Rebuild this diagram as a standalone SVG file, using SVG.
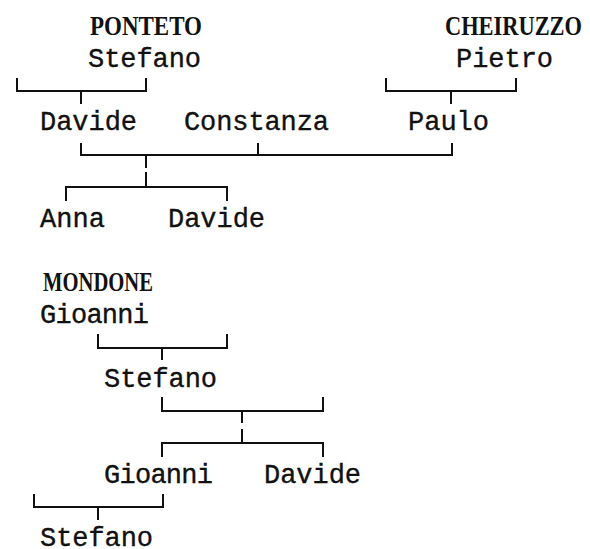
<svg xmlns="http://www.w3.org/2000/svg" width="590" height="549" viewBox="0 0 590 549">
<style>
.n{font-family:"Liberation Mono","DejaVu Sans Mono",monospace;font-size:27px;fill:#111;stroke:#111;stroke-width:0.35}
.t{font-family:"Liberation Serif","DejaVu Serif",serif;font-weight:bold;font-size:28px;fill:#111}
.c{fill:none;stroke:#111;stroke-width:2;stroke-linecap:butt}
</style>
<rect width="590" height="549" fill="#fff"/>
<g id="connectors">
<path class="c" d="M17,78V91H146V78M81,91V104"/>
<path class="c" d="M386,78V91H516V78M451,91V104"/>
<path class="c" d="M81,143V155H452V143M258,143V155M146,155V168"/>
<path class="c" d="M146,172V187M66,201V187H227V201"/>
<path class="c" d="M98,334V348H227V334M162,348V360"/>
<path class="c" d="M162,397V411H323V397M242,411V423"/>
<path class="c" d="M242,429V443M162,457V443H323V457"/>
<path class="c" d="M34,494V507H163V494M98,507V520"/>
</g>
<g id="ponteto-stefano"><text class="t" x="90" y="35" textLength="112" lengthAdjust="spacingAndGlyphs">PONTETO</text><text class="n" x="88" y="67" textLength="113">Stefano</text></g>
<g id="cheiruzzo-pietro"><text class="t" x="445" y="35" textLength="137" lengthAdjust="spacingAndGlyphs">CHEIRUZZO</text><text class="n" x="456" y="67" textLength="97">Pietro</text></g>
<g id="davide"><text class="n" x="40" y="130" textLength="97">Davide</text></g>
<g id="constanza"><text class="n" x="184" y="130" textLength="145">Constanza</text></g>
<g id="paulo"><text class="n" x="408" y="130" textLength="81">Paulo</text></g>
<g id="anna"><text class="n" x="40" y="227" textLength="65">Anna</text></g>
<g id="davide2"><text class="n" x="168" y="227" textLength="97">Davide</text></g>
<g id="mondone-gioanni"><text class="t" x="43" y="291" textLength="110" lengthAdjust="spacingAndGlyphs">MONDONE</text><text class="n" x="40" y="323" textLength="109">Gioanni</text></g>
<g id="stefano2"><text class="n" x="104" y="387" textLength="113">Stefano</text></g>
<g id="gioanni2"><text class="n" x="104" y="483" textLength="109">Gioanni</text></g>
<g id="davide3"><text class="n" x="264" y="483" textLength="97">Davide</text></g>
<g id="stefano3"><text class="n" x="40" y="546" textLength="113">Stefano</text></g>
</svg>
